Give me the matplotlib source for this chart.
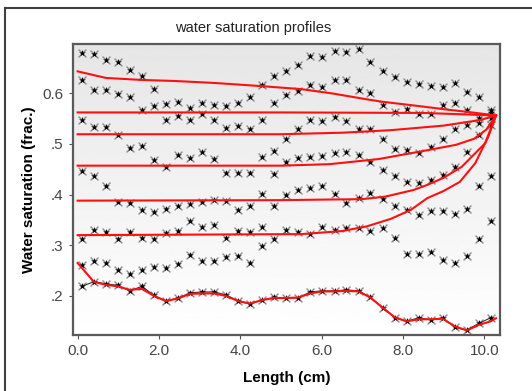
import numpy as np
import matplotlib.pyplot as plt
from matplotlib.lines import Line2D

# sample positions along the core (cm)
length = [0.10, 0.40, 0.69, 0.99, 1.28, 1.58, 1.88, 2.17, 2.47, 2.76,
          3.06, 3.36, 3.65, 3.95, 4.24, 4.54, 4.84, 5.13, 5.43, 5.72,
          6.02, 6.32, 6.61, 6.91, 7.20, 7.50, 7.80, 8.09, 8.39, 8.68,
          8.98, 9.28, 9.57, 9.87, 10.16]

# measured water saturation profiles
sw_1 = [0.680, 0.678, 0.666, 0.661, 0.645, 0.634, 0.608, 0.578, 0.583, 0.570,
        0.580, 0.577, 0.574, 0.580, 0.593, 0.616, 0.634, 0.643, 0.656, 0.674,
        0.671, 0.684, 0.682, 0.687, 0.662, 0.643, 0.632, 0.623, 0.618, 0.614,
        0.613, 0.620, 0.603, 0.592, 0.567]
sw_2 = [0.626, 0.606, 0.606, 0.598, 0.593, 0.567, 0.575, 0.548, 0.555, 0.547,
        0.559, 0.547, 0.531, 0.536, 0.529, 0.547, 0.580, 0.597, 0.605, 0.616,
        0.613, 0.625, 0.625, 0.606, 0.600, 0.577, 0.562, 0.568, 0.559, 0.559,
        0.577, 0.581, 0.566, 0.551, 0.561]
sw_3 = [0.548, 0.533, 0.533, 0.517, 0.491, 0.496, 0.468, 0.455, 0.478, 0.472,
        0.483, 0.470, 0.442, 0.443, 0.442, 0.475, 0.485, 0.509, 0.529, 0.547,
        0.546, 0.553, 0.546, 0.529, 0.529, 0.509, 0.490, 0.487, 0.482, 0.494,
        0.509, 0.529, 0.537, 0.542, 0.551]
sw_4 = [0.446, 0.436, 0.416, 0.386, 0.383, 0.370, 0.366, 0.372, 0.378, 0.381,
        0.385, 0.390, 0.388, 0.370, 0.378, 0.401, 0.441, 0.465, 0.472, 0.475,
        0.476, 0.482, 0.483, 0.478, 0.465, 0.449, 0.436, 0.424, 0.422, 0.429,
        0.439, 0.455, 0.483, 0.518, 0.537]
sw_5 = [0.313, 0.330, 0.327, 0.313, 0.327, 0.315, 0.313, 0.324, 0.328, 0.348,
        0.337, 0.339, 0.314, 0.328, 0.327, 0.337, 0.378, 0.399, 0.409, 0.413,
        0.416, 0.401, 0.383, 0.394, 0.403, 0.392, 0.378, 0.370, 0.359, 0.368,
        0.368, 0.361, 0.372, 0.416, 0.436]
sw_6 = [0.261, 0.268, 0.265, 0.252, 0.243, 0.252, 0.258, 0.255, 0.263, 0.280,
        0.269, 0.269, 0.276, 0.278, 0.265, 0.299, 0.313, 0.330, 0.327, 0.322,
        0.337, 0.330, 0.335, 0.335, 0.328, 0.334, 0.314, 0.282, 0.282, 0.286,
        0.271, 0.265, 0.278, 0.313, 0.347]
sw_7 = [0.219, 0.228, 0.224, 0.221, 0.210, 0.219, 0.201, 0.190, 0.196, 0.206,
        0.208, 0.208, 0.202, 0.190, 0.184, 0.192, 0.197, 0.196, 0.196, 0.208,
        0.210, 0.210, 0.212, 0.210, 0.197, 0.177, 0.157, 0.150, 0.157, 0.153,
        0.157, 0.138, 0.133, 0.146, 0.157]
measured = [sw_1, sw_2, sw_3, sw_4, sw_5, sw_6, sw_7]

# simulated profiles (red)
sim_1_x = [0.0, 0.7, 1.6, 2.4, 3.4, 4.5, 5.5, 6.3, 7.1, 7.5, 8.35, 9.15, 9.6, 10.29]
sim_1_y = [0.643, 0.630, 0.626, 0.624, 0.620, 0.614, 0.608, 0.599, 0.588, 0.583,
           0.575, 0.567, 0.563, 0.556]
sim_2_x = [0.0, 5.0, 8.5, 10.29]
sim_2_y = [0.562, 0.562, 0.561, 0.556]
sim_3_x = [0.0, 5.0, 6.5, 7.7, 9.0, 9.9, 10.29]
sim_3_y = [0.519, 0.519, 0.522, 0.527, 0.536, 0.547, 0.556]
sim_4_x = [0.0, 5.0, 6.2, 7.4, 8.5, 9.3, 9.75, 10.05, 10.29]
sim_4_y = [0.457, 0.457, 0.460, 0.470, 0.486, 0.498, 0.510, 0.528, 0.556]
sim_5_x = [0.0, 5.0, 7.0, 7.57, 8.26, 8.6, 9.0, 9.45, 10.02, 10.29]
sim_5_y = [0.388, 0.389, 0.391, 0.396, 0.409, 0.419, 0.433, 0.455, 0.501, 0.556]
sim_6_x = [0.0, 5.5, 6.5, 7.1, 7.7, 8.2, 8.6, 9.0, 9.4, 9.78, 10.1, 10.29]
sim_6_y = [0.320, 0.322, 0.328, 0.337, 0.352, 0.370, 0.393, 0.407, 0.425, 0.462,
           0.514, 0.556]
sim_7_x = [0.0] + length[1:] + [10.29]
sim_7_y = [0.265, 0.228, 0.222, 0.219, 0.212, 0.214, 0.200, 0.190, 0.195, 0.204,
           0.205, 0.205, 0.200, 0.190, 0.185, 0.192, 0.196, 0.196, 0.197, 0.205,
           0.209, 0.209, 0.210, 0.209, 0.197, 0.177, 0.158, 0.150, 0.154, 0.154,
           0.155, 0.140, 0.132, 0.143, 0.150, 0.156]
simulated = [(sim_1_x, sim_1_y), (sim_2_x, sim_2_y), (sim_3_x, sim_3_y),
             (sim_4_x, sim_4_y), (sim_5_x, sim_5_y), (sim_6_x, sim_6_y),
             (sim_7_x, sim_7_y)]

x_ticks = [0, 2, 4, 6, 8, 10]
x_labels = ["0.0", "2.0", "4.0", "6.0", "8.0", "10.0"]
y_ticks = [0.2, 0.3, 0.4, 0.5, 0.6]
y_labels = [".2", ".3", ".4", ".5", "0.6"]

plt.rcParams['font.family'] = ['Liberation Sans', 'DejaVu Sans']

fig = plt.figure(figsize=(5.32, 3.91), dpi=100)
ax = fig.add_axes([0.1367, 0.1432, 0.8033, 0.7443])

xmin, xmax = -0.12, 10.39
ymin, ymax = 0.123, 0.697

# light gray at the top fading to white at the bottom
grad = np.linspace(0.90, 1.0, 256).reshape(-1, 1)
ax.imshow(grad, extent=[xmin, xmax, ymin, ymax], cmap='gray', vmin=0, vmax=1,
          aspect='auto', zorder=0, origin='upper')

for sw in measured:
    ax.scatter(length, sw, marker='x', s=32, c='#8c8c8c', linewidths=1.0, zorder=2)
    ax.scatter(length, sw, marker='*', s=26, c='black', linewidths=0, zorder=3)

ax.plot(length, sw_7, color='#303030', lw=0.8, zorder=2)

for sx, sy in simulated:
    ax.plot(sx, sy, color='#ff1010', lw=1.5, zorder=4)

ax.set_xlim(xmin, xmax)
ax.set_ylim(ymin, ymax)
ax.set_xticks(x_ticks)
ax.set_xticklabels(x_labels)
ax.set_yticks(y_ticks)
ax.set_yticklabels(y_labels)
ax.tick_params(colors='#555555', labelcolor='#444444', labelsize=11, length=3, width=0.8)

for sp in ax.spines.values():
    sp.set_color('#5a5a5a')
    sp.set_linewidth(1.6)

ax.set_xlabel("Length (cm)", fontsize=11, fontweight='bold', labelpad=9)
ax.set_ylabel("Water saturation (frac.)", fontsize=11, fontweight='bold', labelpad=5)
fig.text(0.476, 0.928, "water saturation profiles", fontsize=10.5, ha='center', va='center',
         color='#222222')

# outer frame
fig.add_artist(Line2D([0.0094, 0.0094], [0.0, 0.9795], color='#404040', lw=1.5))
fig.add_artist(Line2D([0.0094, 1.0], [0.9795, 0.9795], color='#404040', lw=1.5))

fig.savefig("out.png", dpi=100)
